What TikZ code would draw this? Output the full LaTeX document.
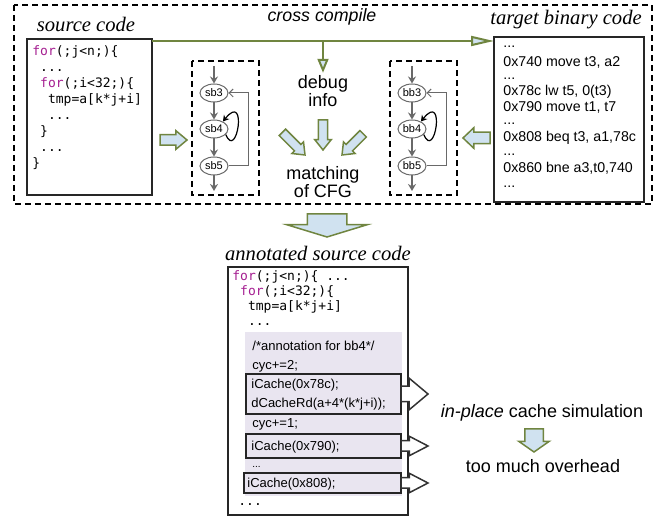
\documentclass[tikz,border=0pt]{standalone}
\usepackage{fontspec}
\setmainfont{Liberation Serif}
\setsansfont{Liberation Sans}
\setmonofont{DejaVu Sans Mono}
\usetikzlibrary{arrows.meta,shapes.geometric,shapes.arrows}
\definecolor{cgreen}{RGB}{112,133,64}
\definecolor{cblue}{RGB}{208,226,240}
\definecolor{clav}{RGB}{233,229,240}
\definecolor{ckw}{RGB}{165,30,145}
\definecolor{cgray}{RGB}{105,105,105}
\newcommand{\kw}[1]{\textcolor{ckw}{#1}}
\newcommand{\ind}{\hphantom{x}}
\newcommand{\ddd}{...}
\tikzset{
  blk/.style n args={4}{single arrow,draw=cgreen,fill=cblue,line width=0.75pt,inner xsep=0pt,inner ysep=#1,
    single arrow head extend=#2,minimum height=#3,single arrow tip angle=#4,outer sep=0pt},
  wblk/.style n args={4}{blk={#1}{#2}{#3}{#4},draw=black!80,fill=white},
}
\begin{document}
\begin{tikzpicture}[x=0.5pt,y=-0.5pt,
  heading/.style={font=\fontsize{10.3}{12}\selectfont\itshape},
  note/.style={font=\fontsize{9}{9.2}\selectfont\sffamily,align=center,inner sep=1pt},
  srcline/.style={font=\fontsize{6.5}{8}\selectfont\ttfamily,anchor=base west,inner sep=0pt},
  binline/.style={font=\fontsize{7.1}{8}\selectfont\sffamily,anchor=base west,inner sep=0pt},
  annline/.style={font=\fontsize{6.5}{8}\selectfont\sffamily,anchor=base west,inner sep=0pt},
  dashframe/.style={draw,line width=0.6pt,dash pattern=on 3pt off 2pt},
  panel/.style={draw=black!85,line width=1pt,fill=white,anchor=north west,inner sep=0pt,outer sep=0pt},
  hlbox/.style={draw=black!85,line width=0.9pt,anchor=north west,inner sep=0pt,outer sep=0pt},
  cfgnode/.style={ellipse,draw=cgray,fill=white,line width=0.5pt,minimum width=14pt,minimum height=9pt,
    inner sep=0pt,font=\fontsize{5.5}{6}\selectfont\sffamily},
  cfgedge/.style={draw=cgray,line width=1pt,-{Stealth[length=3.5pt,width=4pt]}},
  backedge/.style={draw=cgray,line width=0.5pt,-{Straight Barb[length=2pt,width=4pt]}},
  selfedge/.style={draw=black,line width=0.6pt,-{Stealth[length=3pt,width=3.5pt]}},
  xline/.style={draw=cgreen,line width=1pt,-{Triangle[length=11.5pt,width=5pt,fill=cblue]}},
  dline/.style={draw=cgreen,line width=1pt,-{Triangle[length=7pt,width=5.5pt,fill=cblue]}}]
\useasboundingbox (0,0) rectangle (660,517);
\draw[dashframe] (14,5) rectangle (652,204);
\node[heading] (srct) at (86,24) {source code};
\node[heading] (tgtt) at (566,20) {target binary code};
\node[font=\fontsize{8.9}{10}\selectfont\sffamily\itshape] (cct) at (322,17) {cross compile};

\node[panel,minimum width=62.5pt,minimum height=78pt] (src) at (27,39) {};
\foreach \t [count=\i] in {{\kw{for}(;j<n;)\{},{\ind\ddd},{\ind\kw{for}(;i<32;)\{},{\ind\ind tmp=a[k*j+i]},
    {\ind\ind\ddd},{\ind\}},{\ind\ddd},{\}}}
  \node[srcline] (sl\i) at (32,{56+16*(\i-1)}) {\t};

\node[panel,minimum width=75pt,minimum height=82.5pt] (tgt) at (494,37) {};
\foreach \t/\yy [count=\i] in {\ddd/48,{0x740 move t3, a2}/67,\ddd/80,{0x78c lw t5, 0(t3)}/96,{0x790 move t1, t7}/112,
    \ddd/125,{0x808 beq t3, a1,78c}/142,\ddd/156,{0x860 bne a3,t0,740}/173,\ddd/188}
  \node[binline] (tl\i) at (503,\yy) {\t};

\foreach \cx/\p in {192/sb,390/bb}{
  \draw[dashframe] (\cx,61) rectangle ({\cx+67},195);
  \node[cfgnode] (\p3) at ({\cx+22},93) {\p3};
  \node[cfgnode] (\p4) at ({\cx+22},129) {\p4};
  \node[cfgnode] (\p5) at ({\cx+22},166) {\p5};
  \coordinate (\p-in) at ({\cx+22},66);
  \coordinate (\p-out) at ({\cx+22},191);
  \draw[cfgedge] (\p-in) -- (\p3);
  \draw[cfgedge] (\p3) -- (\p4);
  \draw[cfgedge] (\p4) -- (\p5);
  \draw[cfgedge] (\p5) -- (\p-out);
  \draw[backedge] (\p5.east) -| ({\cx+56},93) -- (\p3.east);
  \draw[selfedge] (\p4.-25) .. controls +(11,27) and +(25,-31) .. (\p4.40);
}

\node[blk={2.25pt}{2pt}{13.5pt}{80},anchor=tip] (a1) at (187,140) {};
\node[blk={2.5pt}{2.25pt}{13.5pt}{87},rotate=180,anchor=tip] (a2) at (463,138) {};

\node[note] (dbg) at (323,91) {debug\\info};
\node[note] (mcfg) at (323,182) {matching\\of CFG};
\coordinate (ccl) at ([yshift=-1pt]src.north east);
\draw[xline] (ccl) -- (ccl -| tgt.west);
\coordinate (ccd) at (ccl -| dbg.north);
\draw[dline] (ccd) -- (dbg.north);
\node[blk={1.9pt}{1.85pt}{16pt}{77},rotate=-45,anchor=tip] (m1) at (305,155) {};
\node[blk={1.9pt}{1.85pt}{15pt}{77},rotate=-90,anchor=tip] (m2) at (323,150) {};
\node[blk={1.9pt}{1.85pt}{15pt}{77},rotate=-135,anchor=tip] (m3) at (342,155) {};

\node[blk={9.5pt}{10.25pt}{11.5pt}{146},rotate=-90,anchor=tip] (down) at (327,237) {};
\node[heading] (annt) at (318,253) {annotated source code};
\node[panel,minimum width=90pt,minimum height=124pt] (ann) at (228,267) {};
\foreach \t [count=\i] in {{\kw{for}(;j<n;)\{ \ddd},{\ind\kw{for}(;i<32;)\{},{\ind\ind tmp=a[k*j+i]},{\ind\ind\ddd}}
  \node[srcline] (al\i) at (232,{281+15*(\i-1)}) {\t};
\node[fill=clav,anchor=north west,inner sep=0pt,minimum width=78.5pt,minimum height=82pt] (lav) at (245,332) {};
\node[hlbox,minimum width=77.5pt,minimum height=20pt] (hb1) at (246,374) {};
\node[hlbox,minimum width=77.5pt,minimum height=12pt] (hb2) at (246,434) {};
\node[hlbox,minimum width=78.5pt,minimum height=10pt] (hb3) at (244,473) {};
\node[annline] (n1) at (252,351) {/*annotation for bb4*/};
\node[annline] (n2) at (252,370) {cyc+=2;};
\node[annline] (n3) at (251,389) {iCache(0x78c);};
\node[annline] (n4) at (251,408) {dCacheRd(a+4*(k*j+i));};
\node[annline] (n5) at (252,428) {cyc+=1;};
\node[annline] (n6) at (251,451) {iCache(0x790);};
\node[annline,font=\fontsize{5}{6}\selectfont\sffamily] (n7) at (252,468) {...};
\node[annline] (n8) at (247,488) {iCache(0x808);};
\node[srcline] (al5) at (238,506) {...};
\node[wblk={3.5pt}{4pt}{13.5pt}{80},anchor=tail] (o1) at (hb1.east) {};
\node[wblk={2.25pt}{2.25pt}{13.5pt}{55},anchor=tail] (o2) at (hb2.east) {};
\node[wblk={2.25pt}{2.25pt}{13.5pt}{55},anchor=tail] (o3) at (hb3.east) {};

\node[note] (inpl) at (542,413) {\textit{in-place} cache simulation};
\node[blk={4.25pt}{3pt}{11.5pt}{110},rotate=-90,anchor=tip] (d2) at (534,452) {};
\node[note] (ovh) at (543,466) {too much overhead};
\end{tikzpicture}
\end{document}
